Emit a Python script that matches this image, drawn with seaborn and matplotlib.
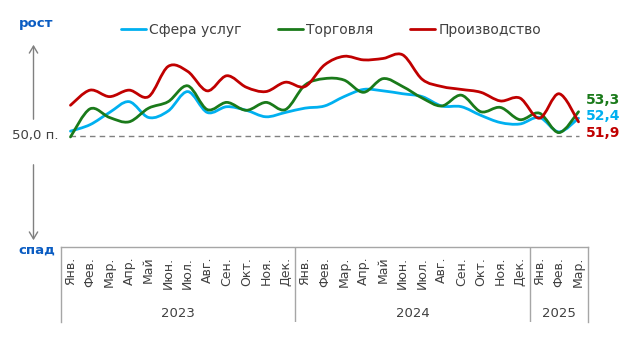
import numpy as np
import pandas as pd
import matplotlib
matplotlib.use("Agg")
import matplotlib.pyplot as plt
from matplotlib.path import Path
from matplotlib.patches import PathPatch, FancyArrowPatch
from matplotlib.lines import Line2D
import seaborn as sns

# ---- data ----
months = ["Янв.", "Фев.", "Мар.", "Апр.", "Май", "Июн.", "Июл.", "Авг.", "Сен.", "Окт.", "Ноя.", "Дек.",
          "Янв.", "Фев.", "Мар.", "Апр.", "Май", "Июн.", "Июл.", "Авг.", "Сен.", "Окт.", "Ноя.", "Дек.",
          "Янв.", "Фев.", "Мар."]
years = ["2023", "2024", "2025"]
year_sizes = [12, 12, 3]

services = [50.6, 51.5, 53.2, 54.7, 52.5, 53.4, 56.1, 53.2, 54.0, 53.5, 52.6, 53.2,
            53.8, 54.1, 55.4, 56.4, 56.2, 55.8, 55.4, 54.1, 54.0, 52.8, 51.8, 51.6,
            52.5, 50.5, 52.4]
trade = [49.8, 53.7, 52.5, 51.9, 53.8, 54.7, 56.9, 53.6, 54.6, 53.5, 54.6, 53.6,
         57.0, 57.9, 57.7, 56.0, 57.9, 56.8, 55.2, 54.1, 55.6, 53.3, 53.9, 52.2,
         53.1, 50.4, 53.3]
production = [54.2, 56.3, 55.4, 56.3, 55.4, 59.6, 58.9, 56.2, 58.3, 56.7, 56.1, 57.4,
              56.8, 59.8, 61.0, 60.5, 60.7, 61.2, 57.8, 56.8, 56.4, 56.0, 54.8, 55.2,
              52.4, 55.8, 51.9]
series_names = ["Сфера услуг", "Торговля", "Производство"]
series_values = [services, trade, production]
end_labels = ["52,4", "53,3", "51,9"]
baseline = 50.0

colors = ["#00b0f0", "#1a7a1a", "#c00000"]
label_colors = ["#00b0f0", "#1a7a1a", "#c00000"]
text_col = "#404040"
blue_txt = "#0a5cc2"

sns.set_theme(style="white")
plt.rcParams["font.family"] = ["DejaVu Sans"]

fig = plt.figure(figsize=(6.21, 3.42), dpi=100)
W, H = 621, 342
x_left, x_right = 60.7, 588.3
top_y, box_top, box_bot = 20.0, 246.7, 321.7
k = 7.2      # px per unit
y50 = 135.5
ymin = baseline - (box_top - y50) / k
ymax = baseline + (y50 - top_y) / k

ax = fig.add_axes([x_left / W, 1 - box_top / H, (x_right - x_left) / W, (box_top - top_y) / H])
ax.set_xlim(-0.5, len(months) - 0.5)
ax.set_ylim(ymin, ymax)
ax.axis("off")

n = len(months)
idx = np.arange(n)
df = pd.DataFrame({
    "idx": np.tile(idx, 3),
    "value": np.concatenate(series_values),
    "series": np.repeat(series_names, n),
})
sns.lineplot(data=df, x="idx", y="value", hue="series", palette=colors,
             hue_order=series_names, legend=False, ax=ax, lw=2)

# replace straight lines with smooth (Excel-like) Bezier curves through the same points
for line, col in zip(list(ax.lines), colors):
    xs, ys = line.get_xdata(), line.get_ydata()
    line.set_visible(False)
    pts = np.column_stack([xs, ys])
    verts = [pts[0]]
    codes = [Path.MOVETO]
    for i in range(len(pts) - 1):
        p0 = pts[i - 1] if i > 0 else pts[i]
        p1 = pts[i]
        p2 = pts[i + 1]
        p3 = pts[i + 2] if i + 2 < len(pts) else pts[i + 1]
        c1 = p1 + (p2 - p0) / 6.0
        c2 = p2 - (p3 - p1) / 6.0
        verts += [c1, c2, p2]
        codes += [Path.CURVE4] * 3
    ax.add_patch(PathPatch(Path(verts, codes), facecolor="none", edgecolor=col,
                           lw=2, capstyle="round", joinstyle="round", zorder=3))

ax.plot([0, n - 1], [baseline, baseline], ls=(0, (4, 3)), color="#808080", lw=1, zorder=2)

# end labels
for vals, lab, col in zip(series_values, end_labels, label_colors):
    pass
fig.text(586 / W, 1 - 100 / H, end_labels[1], color=label_colors[1], fontsize=10, fontweight="bold", va="center", ha="left")
fig.text(586 / W, 1 - 116.5 / H, end_labels[0], color=label_colors[0], fontsize=10, fontweight="bold", va="center", ha="left")
fig.text(586 / W, 1 - 133 / H, end_labels[2], color=label_colors[2], fontsize=10, fontweight="bold", va="center", ha="left")

fig.text(59 / W, 1 - 136 / H, "50,0 п.", color=text_col, fontsize=9.5, ha="right", va="center")

# legend
handles = [Line2D([0], [0], color=c, lw=2) for c in colors]
fig.legend(handles, series_names, loc="center", bbox_to_anchor=(331 / W, 1 - 30 / H), ncol=3,
           frameon=False, fontsize=10, handlelength=1.8, handletextpad=0.25, columnspacing=2.6,
           labelcolor=text_col)

# growth / decline arrows
fig.text(36.5 / W, 1 - 24 / H, "рост", color=blue_txt, fontsize=9.5, fontweight="bold", ha="center", va="center")
fig.text(37 / W, 1 - 250 / H, "спад", color=blue_txt, fontsize=9.5, fontweight="bold", ha="center", va="center")
fig.add_artist(FancyArrowPatch((33.5 / W, 1 - 122 / H), (33.5 / W, 1 - 42 / H), transform=fig.transFigure,
                               arrowstyle="->,head_length=5,head_width=3", color="#808080", lw=1))
fig.add_artist(FancyArrowPatch((33.5 / W, 1 - 162 / H), (33.5 / W, 1 - 243 / H), transform=fig.transFigure,
                               arrowstyle="->,head_length=5,head_width=3", color="#808080", lw=1))

# category axis (months / years)
ax2 = fig.add_axes([x_left / W, 1 - box_bot / H, (x_right - x_left) / W, (box_bot - box_top) / H])
ax2.set_xlim(-0.5, n - 0.5)
ax2.set_ylim(0, 1)
ax2.set_xticks([])
ax2.set_yticks([])
ax2.set_facecolor("none")
for s in ["top", "left", "right"]:
    ax2.spines[s].set_visible(True)
    ax2.spines[s].set_color("#a6a6a6")
    ax2.spines[s].set_linewidth(1)
ax2.spines["bottom"].set_visible(False)
for i, m in enumerate(months):
    ax2.text(i, 0.865, m, rotation=90, ha="center", va="top", fontsize=9, color=text_col)
start = 0
for yr, sz in zip(years, year_sizes):
    ax2.text(start + (sz - 1) / 2, 0.115, yr, ha="center", va="center", fontsize=9.5, color=text_col)
    if start > 0:
        ax2.plot([start - 0.5, start - 0.5], [0, 1], color="#a6a6a6", lw=1)
    start += sz

fig.savefig("out.png", dpi=100)
